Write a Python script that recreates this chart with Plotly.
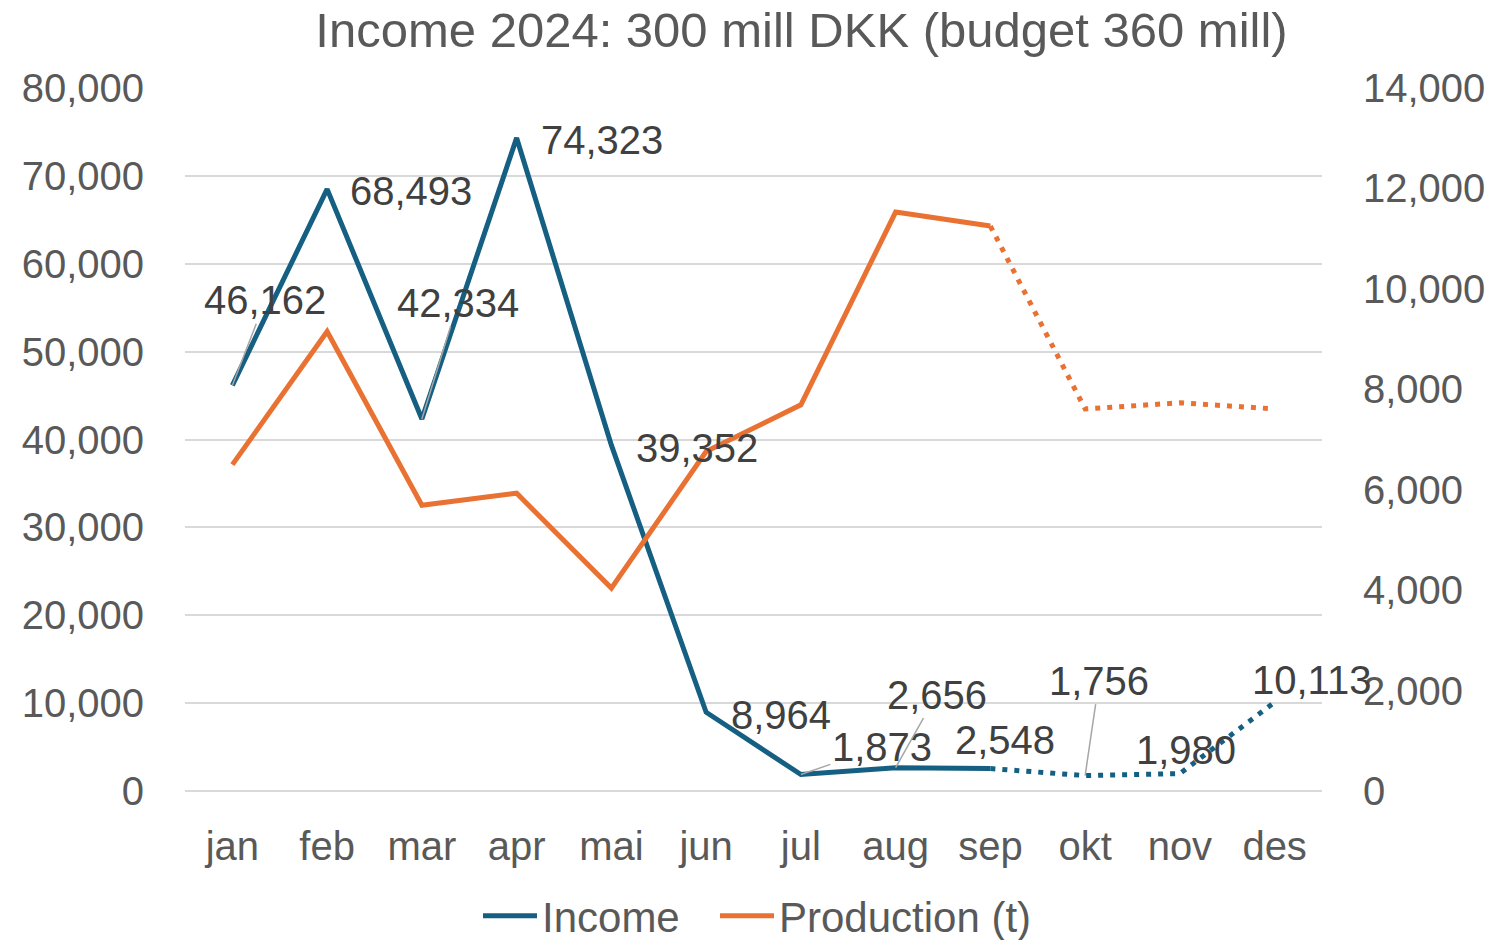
import plotly.graph_objects as go

months = ["jan", "feb", "mar", "apr", "mai", "jun", "jul", "aug", "sep", "okt", "nov", "des"]
income = [46162, 68493, 42334, 74323, 39352, 8964, 1873, 2656, 2548, 1756, 1980, 10113]
production = [6500, 9150, 5690, 5930, 4040, 6760, 7690, 11530, 11250, 7610, 7730, 7610]
actual_count = 9  # jan..sep are actual (solid), sep..des forecast (dotted)

# label offsets in pixels (dx, dy) relative to the point, and whether a leader line is drawn
label_offsets = [(33, -85, True), (84, 2, False), (36, -116, True), (85, 2, False),
                 (86, 3, False), (75, 3, False), (81, -28, True), (41, -73, True),
                 (15, -29, False), (14, -95, True), (6, -24, False), (37, -22, False)]

BLUE = "#156082"
ORANGE = "#E97132"
FONT = "Liberation Sans"

fig = go.Figure()
fig.add_trace(go.Scatter(x=months[:actual_count], y=income[:actual_count], mode="lines",
                         name="Income", line=dict(color=BLUE, width=5), yaxis="y", legend="legend"))
fig.add_trace(go.Scatter(x=months[actual_count - 1:], y=income[actual_count - 1:], mode="lines",
                         showlegend=False, line=dict(color=BLUE, width=5, dash="5px,7px"), yaxis="y"))
fig.add_trace(go.Scatter(x=months[:actual_count], y=production[:actual_count], mode="lines",
                         name="Production (t)", line=dict(color=ORANGE, width=5), yaxis="y2",
                         legend="legend2"))
fig.add_trace(go.Scatter(x=months[actual_count - 1:], y=production[actual_count - 1:], mode="lines",
                         showlegend=False, line=dict(color=ORANGE, width=5, dash="5px,7px"), yaxis="y2"))

annotations = []
for m, v, (dx, dy, leader) in zip(months, income, label_offsets):
    txt = f"{v:,}"
    if leader:
        annotations.append(dict(x=m, y=v, xref="x", yref="y", text=txt, showarrow=True,
                                arrowhead=0, arrowwidth=1.5, arrowcolor="#A6A6A6",
                                ax=dx, ay=dy, standoff=0, startstandoff=0,
                                font=dict(family=FONT, size=40, color="#404040")))
    else:
        annotations.append(dict(x=m, y=v, xref="x", yref="y", text=txt, showarrow=False,
                                xshift=dx, yshift=-dy,
                                font=dict(family=FONT, size=40, color="#404040")))

legend_style = dict(orientation="h", xref="container", yref="container", xanchor="left",
                    y=1 - 916 / 940, yanchor="middle", bgcolor="rgba(0,0,0,0)", itemwidth=54,
                    font=dict(family=FONT, size=42, color="#595959"))

fig.update_layout(
    width=1501, height=940,
    margin=dict(l=185, r=179, t=88, b=149, autoexpand=False),
    paper_bgcolor="white", plot_bgcolor="white",
    font=dict(family=FONT, color="#595959"),
    title=dict(text="Income 2024: 300 mill DKK (budget 360 mill)", x=801.5 / 1501, xanchor="center",
               xref="container", yref="container", y=1 - 30 / 940, yanchor="middle",
               font=dict(family=FONT, size=49, color="#595959")),
    xaxis=dict(type="category", range=[-0.5, 11.5], showgrid=False, showline=False, zeroline=False,
               tickfont=dict(size=40, color="#595959"), ticks="", ticklabelstandoff=28, automargin=False),
    yaxis=dict(range=[0, 80000], dtick=10000, tickformat=",", showgrid=True, gridcolor="#D9D9D9",
               gridwidth=2, zeroline=True, zerolinecolor="#D9D9D9", zerolinewidth=2, showline=False,
               tickfont=dict(size=40, color="#595959"), ticklabelstandoff=40, automargin=False),
    yaxis2=dict(range=[0, 14000], dtick=2000, tickformat=",", overlaying="y", side="right",
                showgrid=False, zeroline=False, showline=False, automargin=False,
                tickfont=dict(size=40, color="#595959"), ticklabelstandoff=40),
    legend=dict(legend_style, x=478 / 1501),
    legend2=dict(legend_style, x=715 / 1501),
    annotations=annotations,
    hovermode=False,
)

fig.write_html("out.html", config={"displayModeBar": False},
               post_script="document.body.style.margin='0';")
